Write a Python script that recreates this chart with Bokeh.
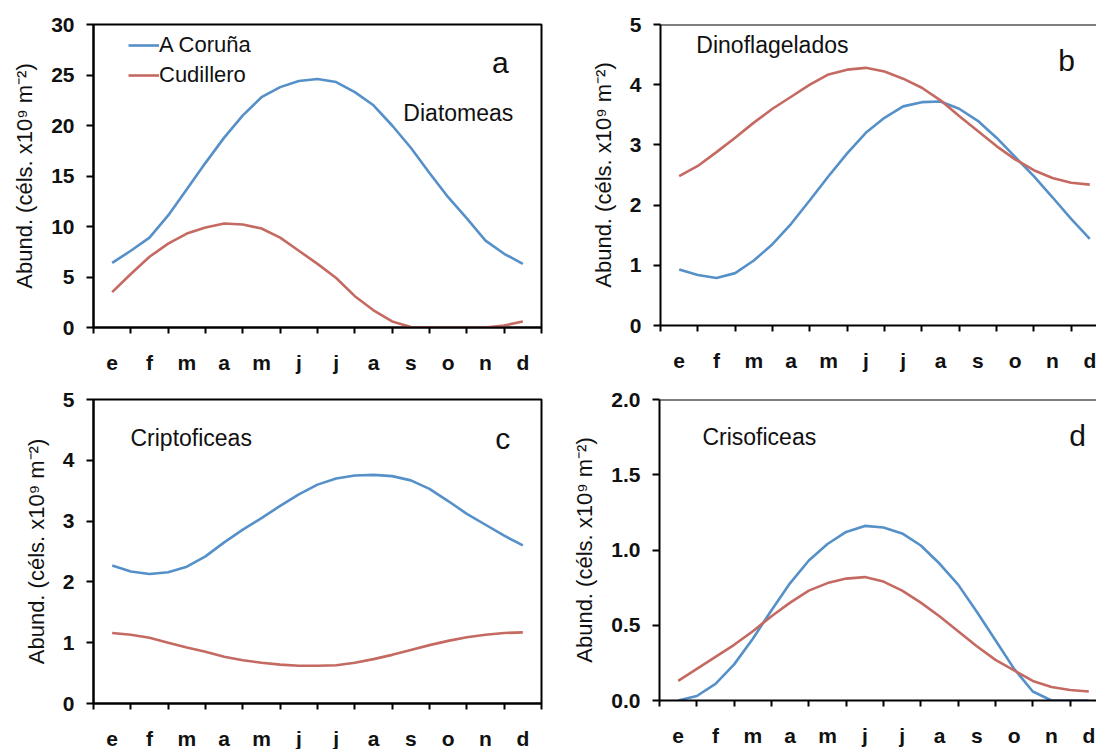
from bokeh.plotting import figure
from bokeh.layouts import column, row
from bokeh.models import FixedTicker, Label, Legend, LegendItem, Span
from bokeh.embed import file_html
from bokeh.resources import INLINE

# ---------------- data ----------------
month_labels = ["e", "f", "m", "a", "m", "j", "j", "a", "s", "o", "n", "d"]
month_centers = [0.5, 1.5, 2.5, 3.5, 4.5, 5.5, 6.5, 7.5, 8.5, 9.5, 10.5, 11.5]
month_edges = [0, 1, 2, 3, 4, 5, 6, 7, 8, 9, 10, 11, 12]
# sampling positions (month units, every half month)
xpos = [0.5, 1.0, 1.5, 2.0, 2.5, 3.0, 3.5, 4.0, 4.5, 5.0, 5.5, 6.0,
        6.5, 7.0, 7.5, 8.0, 8.5, 9.0, 9.5, 10.0, 10.5, 11.0, 11.5]

series_names = ["A Coruña", "Cudillero"]

# a: Diatomeas
diat_coruna = [6.4, 7.6, 8.9, 11.1, 13.7, 16.3, 18.8, 21.0, 22.8, 23.8, 24.4, 24.6,
               24.3, 23.3, 22.0, 20.0, 17.8, 15.3, 12.9, 10.8, 8.6, 7.3, 6.3]
diat_cudillero = [3.5, 5.3, 7.0, 8.3, 9.3, 9.9, 10.3, 10.2, 9.8, 8.9, 7.6, 6.3,
                  4.9, 3.1, 1.7, 0.6, 0.05, 0.0, 0.0, 0.0, 0.0, 0.2, 0.6]
# b: Dinoflagelados
dino_coruna = [0.93, 0.84, 0.79, 0.87, 1.08, 1.35, 1.69, 2.08, 2.48, 2.86, 3.20, 3.45,
               3.64, 3.71, 3.72, 3.60, 3.40, 3.12, 2.80, 2.48, 2.13, 1.77, 1.44]
dino_cudillero = [2.48, 2.65, 2.88, 3.12, 3.37, 3.60, 3.80, 4.00, 4.17, 4.25, 4.28, 4.22,
                  4.10, 3.95, 3.74, 3.48, 3.23, 2.98, 2.76, 2.58, 2.45, 2.37, 2.34]
# c: Criptoficeas
cripto_coruna = [2.27, 2.17, 2.13, 2.16, 2.25, 2.42, 2.65, 2.86, 3.05, 3.25, 3.44, 3.60,
                 3.70, 3.75, 3.76, 3.74, 3.67, 3.53, 3.33, 3.12, 2.94, 2.76, 2.60]
cripto_cudillero = [1.16, 1.13, 1.08, 1.00, 0.92, 0.85, 0.77, 0.71, 0.67, 0.64, 0.62, 0.62,
                    0.63, 0.67, 0.73, 0.80, 0.88, 0.96, 1.03, 1.09, 1.13, 1.16, 1.17]
# d: Crisoficeas
criso_coruna = [0.0, 0.03, 0.11, 0.24, 0.41, 0.60, 0.78, 0.93, 1.04, 1.12, 1.16, 1.15,
                1.11, 1.03, 0.91, 0.77, 0.59, 0.40, 0.21, 0.06, 0.0, 0.0, 0.0]
criso_cudillero = [0.13, 0.21, 0.29, 0.37, 0.46, 0.56, 0.65, 0.73, 0.78, 0.81, 0.82, 0.79,
                   0.73, 0.65, 0.56, 0.46, 0.36, 0.27, 0.20, 0.13, 0.09, 0.07, 0.06]

yticks_a = [0, 5, 10, 15, 20, 25, 30]
yticks_bc = [0, 1, 2, 3, 4, 5]
yticks_d = [0.0, 0.5, 1.0, 1.5, 2.0]
yticklabels_d = ["0.0", "0.5", "1.0", "1.5", "2.0"]

# ---------------- style ----------------
BLUE = "#5690c8"
RED = "#c46a62"
FONT = "Liberation Sans"
YLABEL = "Abund. (céls. x10⁹ m⁻²)"


def make_panel(ys, yticks, ytick_labels, title, letter, title_pos, letter_pos,
               x_end, frame_w, frame_h, b_left, b_right, b_top, b_bottom, boxed):
    p = figure(frame_width=frame_w, frame_height=frame_h,
               x_range=(0, x_end), y_range=(yticks[0], yticks[-1]),
               output_backend="svg", toolbar_location=None,
               min_border_left=b_left, min_border_right=b_right,
               min_border_top=b_top, min_border_bottom=b_bottom,
               background_fill_color="white", border_fill_color="white")
    p.xgrid.visible = False
    p.ygrid.visible = False
    if boxed:
        p.outline_line_color = "black"
        p.outline_line_width = 2
    else:
        p.outline_line_color = None
        p.add_layout(Span(location=yticks[-1], dimension="width",
                          line_color="black", line_width=2))

    # x axis
    xa = p.xaxis[0]
    xa.ticker = FixedTicker(ticks=month_centers, minor_ticks=month_edges)
    xa.major_label_overrides = {c: l for c, l in zip(month_centers, month_labels)}
    xa.major_tick_out = 0
    xa.major_tick_in = 0
    xa.minor_tick_out = 6
    xa.minor_tick_in = 0
    xa.minor_tick_line_width = 2
    xa.minor_tick_line_color = "black"
    xa.axis_line_width = 2
    xa.axis_line_color = "black"
    xa.major_label_standoff = 17
    xa.major_label_text_font = FONT
    xa.major_label_text_font_size = "21px"
    xa.major_label_text_font_style = "bold"
    xa.major_label_text_color = "#111111"

    # y axis
    ya = p.yaxis[0]
    ya.ticker = FixedTicker(ticks=yticks, minor_ticks=[])
    ya.major_label_overrides = {t: l for t, l in zip(yticks, ytick_labels)}
    ya.major_tick_out = 7
    ya.major_tick_in = 0
    ya.major_tick_line_width = 2
    ya.major_tick_line_color = "black"
    ya.axis_line_width = 2
    ya.axis_line_color = "black"
    ya.major_label_standoff = 12
    ya.major_label_text_font = FONT
    ya.major_label_text_font_size = "21px"
    ya.major_label_text_font_style = "bold"
    ya.major_label_text_color = "#111111"
    ya.axis_label = YLABEL
    ya.axis_label_text_font = FONT
    ya.axis_label_text_font_size = "22px"
    ya.axis_label_text_font_style = "normal"
    ya.axis_label_text_color = "#111111"
    ya.axis_label_standoff = 11

    r1 = p.line(xpos, ys[0], line_color=BLUE, line_width=2.6)
    r2 = p.line(xpos, ys[1], line_color=RED, line_width=2.6)

    p.add_layout(Label(x=title_pos[0], y=title_pos[1], text=title,
                       text_font=FONT, text_font_size="23px",
                       text_color="#111111", text_align="left",
                       text_baseline="middle"))
    p.add_layout(Label(x=letter_pos[0], y=letter_pos[1], text=letter,
                       text_font=FONT, text_font_size="30px",
                       text_color="#111111", text_align="center",
                       text_baseline="middle"))
    return p, r1, r2


# frames: a/c left 93, b/d left 657, month width ~37.33 px
pa, ra1, ra2 = make_panel([diat_coruna, diat_cudillero], yticks_a,
                          [str(t) for t in yticks_a], "Diatomeas", "a",
                          (8.3, 21.2), (10.9, 26.2), 12, 448, 303, 93, 46, 24, 53, True)
pb, _, _ = make_panel([dino_coruna, dino_cudillero], yticks_bc,
                      [str(t) for t in yticks_bc], "Dinoflagelados", "b",
                      (0.96, 4.66), (10.88, 4.41), 11.76, 439, 301, 70, 0, 24, 55, False)
pc, _, _ = make_panel([cripto_coruna, cripto_cudillero], yticks_bc,
                      [str(t) for t in yticks_bc], "Criptoficeas", "c",
                      (0.99, 4.36), (10.96, 4.36), 12, 448, 304, 93, 28, 18, 47, True)
pd_, _, _ = make_panel([criso_coruna, criso_cudillero], yticks_d,
                       yticklabels_d, "Crisoficeas", "d",
                       (1.15, 1.75), (11.2, 1.76), 11.76, 439, 301, 88, 0, 19, 49, False)

legend = Legend(items=[LegendItem(label=series_names[0], renderers=[ra1]),
                       LegendItem(label=series_names[1], renderers=[ra2])],
                location=(35, 237), orientation="vertical",
                border_line_color=None, background_fill_alpha=0,
                padding=0, margin=0, spacing=0,
                glyph_width=31, glyph_height=30, label_height=30,
                label_standoff=0, label_text_font=FONT,
                label_text_font_size="22px", label_text_color="#111111")
pa.add_layout(legend)

layout = column(row(pa, pb), row(pc, pd_))

open("out.html", "w").write(file_html(layout, INLINE))
